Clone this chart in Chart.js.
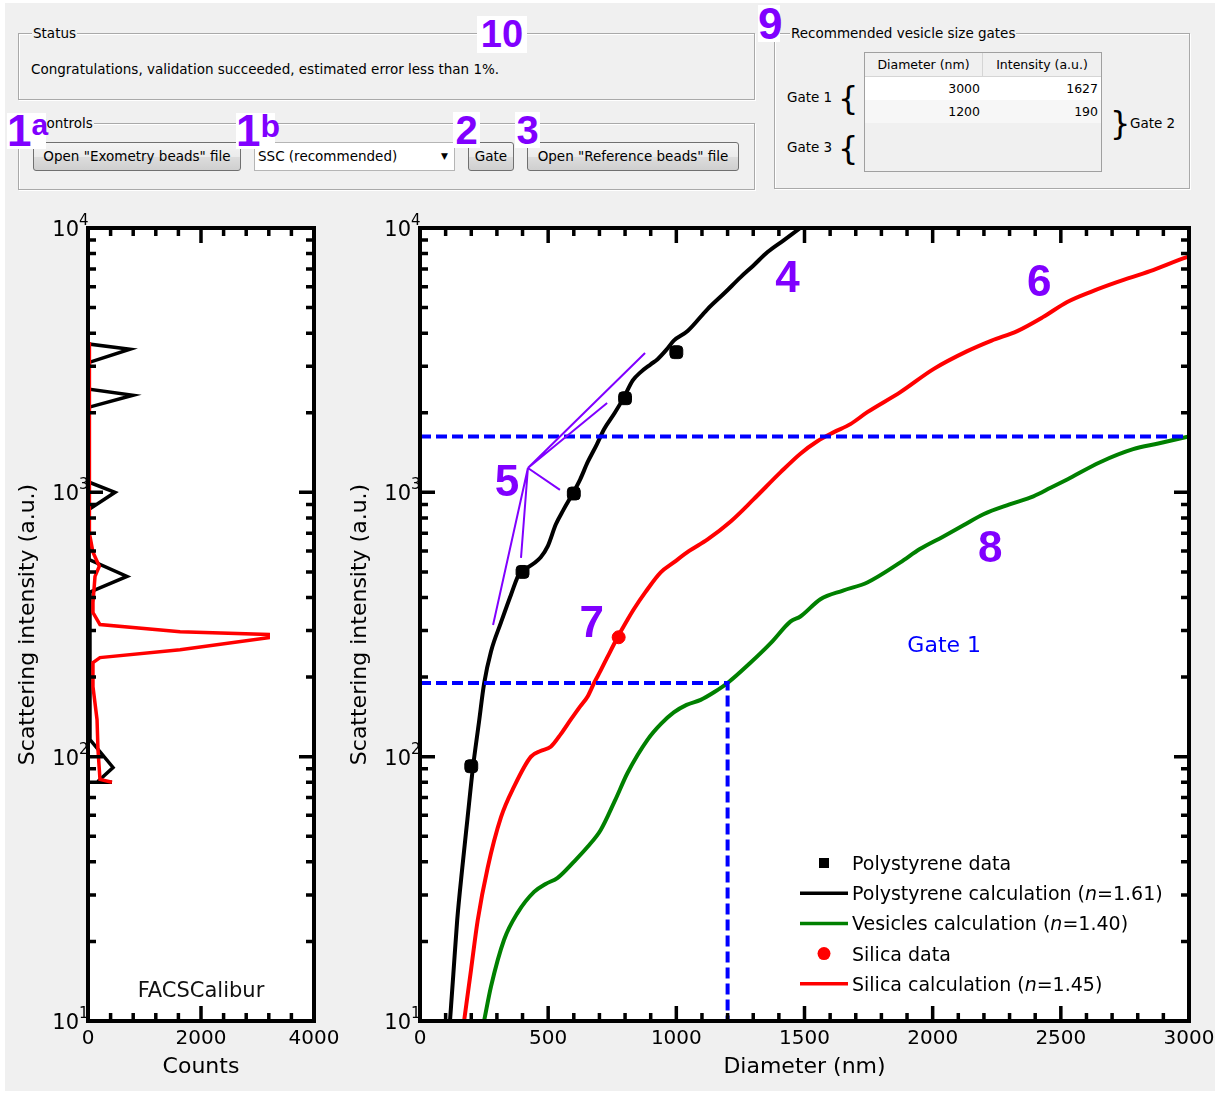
<!DOCTYPE html>
<html>
<head>
<meta charset="utf-8">
<script src="https://cdn.jsdelivr.net/npm/chart.js@4.4.1/dist/chart.umd.min.js"></script>
<style>
body { margin:0; background:#fff; width:1220px; height:1093px; overflow:hidden; position:relative; font-family:"DejaVu Sans", sans-serif; color:#000; }
#panel { position:absolute; left:5px; top:3px; width:1210px; height:1088px; background:#f0f0f0; }
.group { position:absolute; border:1px solid #a9a9a9; box-shadow:1px 1px 0 #fff, inset 1px 1px 0 #fff; }
.gtitle { position:absolute; top:-9px; background:#f0f0f0; padding:0 1px; font-size:13.5px; line-height:17px; white-space:nowrap; }
.btn { position:absolute; top:142px; height:29px; box-sizing:border-box; border:1px solid #707070; border-radius:3px; background:linear-gradient(#f4f4f4 0%, #ebebeb 50%, #dddddd 51%, #cfcfcf 100%); font-size:13.5px; line-height:27px; text-align:center; white-space:nowrap; }
.num { position:absolute; background:#fff; color:#8000ff; font-family:"Liberation Sans", Arial, sans-serif; font-weight:bold; z-index:5; white-space:nowrap; }
.lbl { position:absolute; font-size:13.5px; line-height:17px; white-space:nowrap; }
.brace { position:absolute; font-size:32px; line-height:36px; }
canvas { position:absolute; top:200px; }
#gateTable { position:absolute; left:864px; top:52px; width:238px; height:120px; box-sizing:border-box; border:1px solid #a0a0a0; background:#f0f0f0; font-size:12.5px; }
#gateTable .row { position:absolute; left:0; width:236px; height:23px; line-height:23px; }
#gateTable .cell { position:absolute; top:0; height:23px; box-sizing:border-box; }
</style>
</head>
<body>
<div id="panel"></div>

<!-- Status -->
<div class="group" style="left:18px;top:33px;width:735px;height:65px">
  <span class="gtitle" style="left:13px">Status</span>
  <div class="lbl" style="left:12px;top:27px">Congratulations, validation succeeded, estimated error less than 1%.</div>
</div>
<div class="num" style="left:477px;top:16px;width:50px;height:37px;font-size:38px;line-height:37px;text-align:center">10</div>

<!-- Controls -->
<div class="group" style="left:18px;top:123px;width:735px;height:65px">
  <span class="gtitle" style="left:17px">Controls</span>
</div>
<div class="btn" style="left:33px;width:208px">Open "Exometry beads" file</div>
<div style="position:absolute;left:254px;top:142px;width:201px;height:29px;box-sizing:border-box;border:1px solid #b5b5b5;background:#fff;font-size:13.5px;line-height:27px;padding-left:3px">SSC (recommended)<span style="position:absolute;right:6px;top:0;font-size:9px">&#9660;</span></div>
<div class="btn" style="left:468px;width:46px">Gate</div>
<div class="btn" style="left:527px;width:212px">Open "Reference beads" file</div>
<div class="num" style="left:7px;top:113px;width:39px;height:36px;font-size:44px;line-height:36px">1<span style="font-size:30px;vertical-align:top;line-height:24px">a</span></div>
<div class="num" style="left:236px;top:113px;width:39px;height:36px;font-size:44px;line-height:36px">1<span style="font-size:32px;vertical-align:top;line-height:26px">b</span></div>
<div class="num" style="left:453px;top:112px;width:27px;height:36px;font-size:40px;line-height:36px;text-align:center">2</div>
<div class="num" style="left:515px;top:112px;width:25px;height:36px;font-size:40px;line-height:36px;text-align:center">3</div>

<!-- Gates -->
<div class="group" style="left:774px;top:33px;width:414px;height:154px">
  <span class="gtitle" style="left:15px">Recommended vesicle size gates</span>
</div>
<div class="num" style="left:758px;top:5px;width:22px;height:37px;font-size:44px;line-height:37px;text-align:center">9</div>
<div id="gateTable"></div>
<div class="lbl" style="left:787px;top:89px">Gate 1</div>
<div class="brace" style="left:838px;top:80px">{</div>
<div class="lbl" style="left:787px;top:139px">Gate 3</div>
<div class="brace" style="left:838px;top:130px">{</div>
<div class="brace" style="left:1110px;top:105px">}</div>
<div class="lbl" style="left:1130px;top:115px">Gate 2</div>

<canvas id="histChart" width="345" height="893" style="left:0px"></canvas>
<canvas id="mainChart" width="875" height="893" style="left:340px"></canvas>

<script>
// Andmed (loetud pildilt)
const diamTicks = [0, 500, 1000, 1500, 2000, 2500, 3000];
const countTicks = [0, 2000, 4000];
const decadeTicks = [10, 100, 1000, 10000];

const polyDataDiam = [200, 400, 600, 800, 1000];
const polyDataInt = [92, 500, 990, 2270, 3390];

const polyCalcDiam = [117, 130, 145, 165, 185, 206, 230, 250, 277, 316, 355, 393, 420, 471, 498, 530, 560, 596, 625, 654, 690, 718, 760, 796, 830, 861, 900, 927, 960, 990, 1044, 1122, 1190, 1251, 1300, 1356, 1420, 1484, 1520];
const polyCalcInt = [10, 15, 24, 38, 58, 90, 135, 189, 250, 322, 410, 505, 520, 568, 624, 757, 860, 990, 1120, 1300, 1520, 1733, 2000, 2292, 2650, 2850, 3050, 3190, 3450, 3750, 4075, 4935, 5700, 6520, 7200, 8110, 9000, 10000, 10600];

const vesCalcDiam = [250, 277, 328, 380, 445, 490, 537, 600, 654, 705, 760, 810, 888, 940, 990, 1040, 1095, 1150, 1200, 1290, 1370, 1446, 1484, 1562, 1650, 1745, 1874, 1950, 2042, 2120, 2198, 2300, 2393, 2460, 2525, 2653, 2782, 2880, 3000];
const vesCalcInt = [10, 13.5, 20.3, 25.6, 30.8, 33, 34.8, 40, 45.6, 52.8, 68, 86.9, 116, 133, 147, 157, 164, 176, 190, 227, 270, 325, 339, 394, 425, 456, 543, 610, 681, 750, 826, 900, 966, 1040, 1119, 1300, 1456, 1530, 1627];

const silicaDataDiam = [775];
const silicaDataInt = [283];

const silicaCalcDiam = [172, 199, 225, 264, 316, 367, 433, 470, 510, 550, 588, 625, 654, 679, 705, 732, 771, 810, 834, 880, 939, 990, 1050, 1122, 1212, 1301, 1407, 1484, 1550, 1613, 1679, 1745, 1874, 2003, 2135, 2230, 2330, 2430, 2525, 2620, 2719, 2848, 2992, 3000];
const silicaCalcInt = [10, 15.6, 24, 38, 59, 77, 100, 105, 109, 122, 138, 155, 169, 190, 212, 239, 283, 330, 361, 420, 498, 543, 600, 664, 776, 940, 1192, 1400, 1560, 1686, 1811, 2010, 2394, 2925, 3420, 3750, 4075, 4600, 5250, 5750, 6240, 6870, 7760, 7800];

// Väravad: läbimõõt ja intensiivsus
const gateDiam = [3000, 1200];
const gateInt = [1627, 190];

// Histogrammid (loendus vs intensiivsus)
const histBlackInt = [3700, 3640, 3480, 3100, 2455, 2330, 2100, 1092, 1000, 863, 557, 481, 418, 116, 91, 82, 80, 80];
const histBlackCounts = [20, 20, 743, 20, 20, 796, 20, 20, 478, 20, 20, 690, 20, 35, 443, 212, 160, 425];
const histRedInt = [3700, 1500, 700, 593, 525, 481, 383, 351, 316, 297, 290, 282, 254, 237, 227, 184, 138, 106, 82, 80];
const histRedCounts = [20, 20, 30, 88, 200, 124, 88, 88, 212, 1630, 3190, 3190, 1630, 212, 88, 88, 160, 177, 212, 425];

// Numbrid ja märkused graafikul
const noteText = ['4', '5', '6', '7', '8'];
const noteDiam = [1434, 339, 2416, 670, 2225];
const noteInt = [6580, 1110, 6350, 327, 624];
const pointerFrom = [421, 1236];
const pointerDiam = [285, 394, 546, 730, 878];
const pointerInt = [315, 565, 1021, 2178, 3366];

const pts = (xs, ys) => xs.map((x, i) => ({x: x, y: ys[i]}));

// Tabel
const table = document.getElementById('gateTable');
table.innerHTML =
  '<div class="row" style="top:0;background:#f0f0f0;border-bottom:1px solid #d5d5d5">' +
  '<div class="cell" style="left:0;width:118px;text-align:center;border-right:1px solid #d5d5d5">Diameter (nm)</div>' +
  '<div class="cell" style="left:118px;width:118px;text-align:center">Intensity (a.u.)</div></div>';
gateDiam.forEach((d, i) => {
  const bg = i === 0 ? '#ffffff' : '#f7f7f7';
  table.innerHTML += '<div class="row" style="top:' + (24 + i * 23) + 'px;background:' + bg + '">' +
    '<div class="cell" style="left:0;width:118px;text-align:right;padding-right:3px">' + d + '</div>' +
    '<div class="cell" style="left:118px;width:118px;text-align:right;padding-right:3px">' + gateInt[i] + '</div></div>';
});

Chart.defaults.font.family = '"DejaVu Sans", sans-serif';
Chart.defaults.color = '#000';

// Raam, sissepoole tiksud ja y-telje sildid 10^n
const framePlugin = {
  id: 'frame',
  beforeDatasetsDraw(chart) {
    const {ctx, chartArea: a} = chart;
    ctx.save();
    ctx.fillStyle = '#fff';
    ctx.fillRect(a.left, a.top, a.width, a.height);
    ctx.restore();
  },
  afterDatasetsDraw(chart, args, opts) {
    const {ctx, chartArea: a, scales: {x, y}} = chart;
    ctx.save();
    ctx.strokeStyle = '#000';
    ctx.lineWidth = 3.5;
    ctx.beginPath();
    for (let v = x.min; v <= x.max + 0.001; v += opts.xMinor) {
      const px = x.getPixelForValue(v);
      const major = x.ticks.some(t => Math.abs(t.value - v) < 0.001);
      const len = major ? 15 : 8;
      ctx.moveTo(px, a.bottom); ctx.lineTo(px, a.bottom - len);
      ctx.moveTo(px, a.top); ctx.lineTo(px, a.top + len);
    }
    for (let dec = y.min; dec < y.max; dec *= 10) {
      for (let m = 1; m <= 10; m++) {
        const py = y.getPixelForValue(dec * m);
        const len = (m === 1 || m === 10) ? 15 : 8;
        ctx.moveTo(a.left, py); ctx.lineTo(a.left + len, py);
        ctx.moveTo(a.right, py); ctx.lineTo(a.right - len, py);
      }
    }
    ctx.stroke();
    ctx.lineWidth = 4;
    ctx.strokeRect(a.left, a.top, a.width, a.height);

    ctx.fillStyle = '#000';
    y.ticks.forEach(t => {
      const py = y.getPixelForValue(t.value);
      ctx.font = '21px "DejaVu Sans"';
      ctx.textAlign = 'right';
      ctx.textBaseline = 'alphabetic';
      ctx.fillText('10', a.left - 9, py + 8);
      ctx.font = '15px "DejaVu Sans"';
      ctx.textAlign = 'left';
      ctx.fillText(String(Math.round(Math.log10(t.value))), a.left - 9, py - 3);
    });
    ctx.restore();
  }
};

function italicLabel(ctx, text, x, y, size) {
  const parts = text.split('(n=');
  ctx.font = size + 'px "DejaVu Sans"';
  if (parts.length < 2) { ctx.fillText(text, x, y); return; }
  let cx = x;
  const first = parts[0] + '(';
  ctx.fillText(first, cx, y); cx += ctx.measureText(first).width;
  ctx.font = 'italic ' + size + 'px "DejaVu Sans"';
  ctx.fillText('n', cx, y); cx += ctx.measureText('n').width;
  ctx.font = size + 'px "DejaVu Sans"';
  ctx.fillText('=' + parts[1], cx, y);
}

// Märkused, "Gate 1" ja legend põhigraafikul
const notesPlugin = {
  id: 'notes',
  afterDraw(chart, args, opts) {
    const {ctx, chartArea: a, scales: {x, y}} = chart;
    ctx.save();
    // jooned numbrist 5 andmepunktideni
    ctx.strokeStyle = '#8000ff';
    ctx.lineWidth = 2;
    ctx.beginPath();
    const fx = x.getPixelForValue(pointerFrom[0]), fy = y.getPixelForValue(pointerFrom[1]);
    pointerDiam.forEach((d, i) => {
      ctx.moveTo(fx, fy);
      ctx.lineTo(x.getPixelForValue(d), y.getPixelForValue(pointerInt[i]));
    });
    ctx.stroke();
    ctx.fillStyle = '#8000ff';
    ctx.font = 'bold 44px "Liberation Sans", Arial';
    ctx.textAlign = 'center';
    ctx.textBaseline = 'alphabetic';
    noteText.forEach((t, i) => {
      ctx.fillText(t, x.getPixelForValue(noteDiam[i]), y.getPixelForValue(noteInt[i]) + 16);
    });
    ctx.fillStyle = '#0000ff';
    ctx.font = '22px "DejaVu Sans"';
    ctx.fillText('Gate 1', x.getPixelForValue(2045), y.getPixelForValue(266) + 8);

    // legend
    const symX = a.right - 389, textX = a.right - 337;
    let rowY = a.bottom - 158;
    opts.legendOrder.forEach(idx => {
      const ds = chart.data.datasets[idx];
      if (ds.showLine) {
        ctx.strokeStyle = ds.borderColor;
        ctx.lineWidth = 3.5;
        ctx.beginPath();
        ctx.moveTo(symX, rowY); ctx.lineTo(symX + 48, rowY);
        ctx.stroke();
      } else {
        ctx.fillStyle = ds.backgroundColor;
        if (ds.pointStyle === 'circle') {
          ctx.beginPath(); ctx.arc(symX + 24, rowY, 6.5, 0, Math.PI * 2); ctx.fill();
        } else {
          ctx.fillRect(symX + 19, rowY - 5, 10, 10);
        }
      }
      ctx.fillStyle = '#000';
      ctx.textAlign = 'left';
      italicLabel(ctx, ds.label, textX, rowY + 7, 19);
      rowY += 30.2;
    });
    ctx.restore();
  }
};

const facsPlugin = {
  id: 'facs',
  afterDraw(chart) {
    const {ctx, scales: {x, y}} = chart;
    ctx.save();
    ctx.fillStyle = '#111';
    ctx.font = '21px "DejaVu Sans"';
    ctx.textAlign = 'center';
    ctx.fillText('FACSCalibur', x.getPixelForValue(2000), y.getPixelForValue(13.2) + 8);
    ctx.restore();
  }
};

function axisOptions(xMin, xMax, xTicks, xTitle, yWidth, yTitlePad) {
  return {
    x: {
      type: 'linear', min: xMin, max: xMax,
      afterBuildTicks: s => { s.ticks = xTicks.map(v => ({value: v})); },
      afterFit: s => { s.height = 72; s.paddingLeft = 0; s.paddingRight = 0; },
      ticks: { font: {size: 20}, color: '#000', padding: 6, maxRotation: 0, autoSkip: false, callback: v => String(v) },
      grid: { display: false, drawTicks: false },
      border: { display: false },
      title: { display: true, text: xTitle, font: {size: 22}, color: '#000', padding: {top: 0, bottom: 13} }
    },
    y: {
      type: 'logarithmic', min: 10, max: 10000,
      afterBuildTicks: s => { s.ticks = decadeTicks.map(v => ({value: v})); },
      afterFit: s => { s.width = yWidth; s.paddingTop = 0; s.paddingBottom = 0; },
      ticks: { display: false },
      grid: { display: false, drawTicks: false },
      border: { display: false },
      title: { display: true, text: 'Scattering intensity (a.u.)', font: {size: 22}, color: '#000', padding: {top: yTitlePad, bottom: 0} }
    }
  };
}

new Chart(document.getElementById('histChart'), {
  type: 'scatter',
  data: {
    datasets: [
      { label: 'Silica beads', data: pts(histRedCounts, histRedInt), showLine: true, borderColor: '#ff0000', borderWidth: 3.5, pointRadius: 0, tension: 0, order: 0 },
      { label: 'Polystyrene beads', data: pts(histBlackCounts, histBlackInt), showLine: true, borderColor: '#000', borderWidth: 3.5, pointRadius: 0, tension: 0, order: 1 }
    ]
  },
  options: {
    responsive: false, animation: false, devicePixelRatio: 1, events: [],
    layout: { padding: {top: 28, right: 31, left: 0, bottom: 0} },
    scales: axisOptions(0, 4000, countTicks, 'Counts', 88, 15),
    plugins: { legend: {display: false}, tooltip: {enabled: false}, frame: {xMinor: 400} }
  },
  plugins: [framePlugin, facsPlugin]
});

const lineDs = (label, xs, ys, color, order) => ({
  label: label, data: pts(xs, ys), showLine: true, borderColor: color, backgroundColor: color,
  borderWidth: 4, pointRadius: 0, cubicInterpolationMode: 'monotone', order: order
});

new Chart(document.getElementById('mainChart'), {
  type: 'scatter',
  data: {
    datasets: [
      { label: 'Polystyrene data', data: pts(polyDataDiam, polyDataInt), showLine: false, pointStyle: 'rectRounded', pointRadius: 7.5, backgroundColor: '#000', borderColor: '#000', order: 0 },
      lineDs('Polystyrene calculation (n=1.61)', polyCalcDiam, polyCalcInt, '#000000', 2),
      lineDs('Vesicles calculation (n=1.40)', vesCalcDiam, vesCalcInt, '#008000', 2),
      { label: 'Silica data', data: pts(silicaDataDiam, silicaDataInt), showLine: false, pointStyle: 'circle', pointRadius: 6.5, backgroundColor: '#ff0000', borderColor: '#ff0000', order: 0 },
      lineDs('Silica calculation (n=1.45)', silicaCalcDiam, silicaCalcInt, '#ff0000', 2),
      { label: '', data: [{x: 0, y: gateInt[0]}, {x: gateDiam[0], y: gateInt[0]}], showLine: true, borderColor: '#0000ff', borderWidth: 4, borderDash: [11, 5], pointRadius: 0, tension: 0, order: 1 },
      { label: '', data: [{x: 0, y: gateInt[1]}, {x: gateDiam[1], y: gateInt[1]}, {x: gateDiam[1], y: 10}], showLine: true, borderColor: '#0000ff', borderWidth: 4, borderDash: [11, 5], pointRadius: 0, tension: 0, order: 1 }
    ]
  },
  options: {
    responsive: false, animation: false, devicePixelRatio: 1, events: [],
    layout: { padding: {top: 28, right: 26, left: 0, bottom: 0} },
    scales: axisOptions(0, 3000, diamTicks, 'Diameter (nm)', 80, 7),
    plugins: { legend: {display: false}, tooltip: {enabled: false}, frame: {xMinor: 100}, notes: {legendOrder: [0, 1, 2, 3, 4]} }
  },
  plugins: [framePlugin, notesPlugin]
});
</script>
</body>
</html>
